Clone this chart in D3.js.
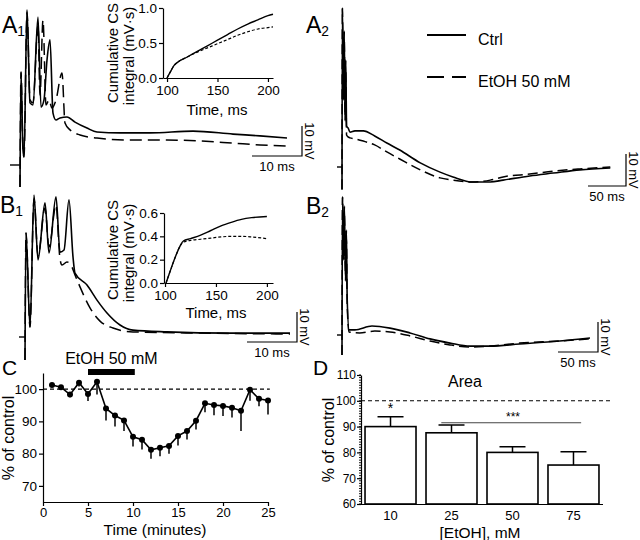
<!DOCTYPE html>
<html>
<head>
<meta charset="utf-8">
<script src="https://cdn.jsdelivr.net/npm/d3@7"></script>
<style>
  body { margin: 0; background: #fff; }
  svg { display: block; font-family: "Liberation Sans", Arial, sans-serif; }
</style>
</head>
<body>
<div id="chart"></div>
<script>
// ---- field potential traces, [time ms, mV] ----
const a1Ctrl = [[0,-7.3],[0.2,31],[0.6,5],[0.8,2.7],[1.4,51.7],[2,20.7],[2.6,20],[3.6,49.3],[4.2,19.3],[4.8,21.7],[5.4,35],[6,41.7],[6.6,17.3],[7.2,15],[8,15.7],[9.4,16],[11,14.3],[13.4,12.3],[15.4,11],[20,10.7],[26,10.7],[34.6,11.3],[42.6,10.3],[48,9.7],[53.4,9]];
const a1Etoh = [[0,-7.3],[0.2,31],[0.6,5],[0.8,2.7],[1.4,51],[2,21.7],[2.6,20.7],[3.6,46.7],[4,23.3],[4.6,48.3],[5.2,20],[5.8,21.7],[6.4,19],[7.2,21.7],[8.4,30.7],[9,14],[10,11.7],[12,10],[15.4,9],[22,8.3],[29.4,8.3],[36,8],[42.6,7.3],[48,6.7],[53.4,6.3]];

const a2Ctrl = [[0,-7],[0.5,49.6],[2,20.9],[3,42.5],[4,14.4],[5,33.4],[6,12.8],[8,12.2],[10.5,10.9],[17,11.3],[28,11.3],[43,9.7],[59,7.5],[76,5.3],[103,1.3],[129,-1.6],[146,-3.1],[172,-4.7],[195,-4.7],[212,-4.1],[247,-2.8],[278,-1.9],[313,-0.9],[353,-0.3]];
const a2Etoh = [[0,-7],[0.5,49.6],[2,22],[3,40],[4,16],[5,30],[6,10],[8,9.4],[10.5,9.1],[17,8.8],[28,8.1],[43,6.9],[59,4.7],[76,2.5],[103,-0.9],[129,-3.4],[146,-4.1],[172,-4.7],[195,-4.1],[212,-3.1],[247,-2.2],[278,-1.3],[313,-0.6],[353,0]];

const b1Ctrl = [[0,-7.7],[0.2,34.7],[1,3.3],[1.8,47.3],[2.6,25.7],[4,44.7],[4.8,28],[6.2,46.7],[7,28.3],[7.8,29],[8.8,45.7],[9.6,26.7],[10,21.3],[12.4,17.3],[14.4,12.3],[16.4,8],[19,4],[21.6,2.3],[28.4,1.7],[41,1.3],[53,1.3]];
const b1Etoh = [[0,-7.7],[0.2,34.7],[1,3.3],[1.8,46],[2.6,27],[4,43],[4.8,30],[6.2,44],[7,26],[7.4,24],[8.4,25],[9.4,23.3],[10,20.7],[11,16.7],[13,9.7],[15,5.3],[17.6,3],[21.6,1.7],[35,1.3],[53,1]];

const b2Ctrl = [[0,-6.7],[0.6,46],[2,25],[3,43],[4.4,18],[5.5,35],[6.5,12],[8.8,1.7],[16,1.7],[37.5,3],[60,2.3],[85,0.7],[110,-1.3],[135,-2.7],[160,-3.7],[185,-3.7],[222,-3],[272,-2],[310,-1]];
const b2Etoh = [[0,-6.7],[0.6,46],[2,27],[3,40],[4.4,20],[5.5,32],[6.5,10],[8.8,1],[22,0.7],[41,1.3],[60,1],[85,-0.3],[110,-2],[135,-3.3],[160,-4],[185,-3.7],[222,-2.7],[272,-2],[310,-1.3]];

// ---- cumulative CS integral insets, [time ms, mV·s] ----
const a1IntCtrl = [[100,0],[103,0.08],[107,0.18],[110,0.22],[120,0.3],[130,0.38],[140,0.46],[150,0.54],[160,0.62],[170,0.7],[180,0.77],[190,0.83],[200,0.89],[205,0.91]];
const a1IntEtoh = [[100,0],[103,0.08],[107,0.18],[110,0.22],[120,0.3],[130,0.37],[140,0.43],[150,0.49],[160,0.55],[170,0.61],[180,0.66],[190,0.7],[200,0.72],[205,0.73]];
const b1IntCtrl = [[101,0],[105,0.1],[110,0.22],[115,0.32],[118,0.36],[125,0.38],[135,0.41],[145,0.45],[155,0.49],[165,0.52],[175,0.545],[185,0.56],[200,0.57]];
const b1IntEtoh = [[101,0],[105,0.1],[110,0.22],[115,0.32],[118,0.35],[125,0.365],[135,0.375],[145,0.385],[155,0.395],[165,0.4],[175,0.4],[185,0.395],[200,0.38]];
const insetXTicks = [100, 150, 200];
const a1IntYTicks = [0, 0.5, 1.0];
const b1IntYTicks = [0, 0.2, 0.4, 0.6];

// ---- panel C: time course ----
const cMinutes = [1,2,3,4,5,6,7,8,9,10,11,12,13,14,15,16,17,18,19,20,21,22,23,24,25];
const cValues = [101.3,100.6,98.3,102,98.5,102.3,94,91.8,90.3,85.2,84.3,81.2,81.8,82.4,85.5,87,90.2,95.6,95.1,94.8,94.2,93.3,99.8,97,96.5];
const cErrors = [0.5,0.4,0.8,1.2,2.2,4,3.7,3.4,3.3,3,3,2.8,2.6,2.4,3,2.6,2.7,2.8,3.2,3.1,3,6.3,3.4,2.3,4.4];
const cXTicks = [0,5,10,15,20,25];
const cYTicks = [70,80,90,100];
const cEtohStart = 5, cEtohEnd = 10.2;

// ---- panel D: dose response ----
const dConc = ["10","25","50","75"];
const dValues = [90,87.6,80,75.1];
const dErrors = [3.8,3,2.2,5.2];
const dYTicks = [60,70,80,90,100,110];

const svg = d3.select("#chart").append("svg")
    .attr("width", 640)
    .attr("height", 540);

svg.append("rect").attr("width", 640).attr("height", 540).attr("fill", "#fff");

function panelLabel(txt, sub, x, y, size) {
    const t = svg.append("text").attr("x", x).attr("y", y)
        .attr("font-size", size).text(txt);
    if (sub) t.append("tspan").attr("font-size", size * 0.6).attr("dy", 3).text(sub);
}

function styleAxis(g, size) {
    g.selectAll("path, line").attr("stroke", "#000").attr("stroke-width", 1.2);
    g.selectAll("text").attr("font-size", size).attr("fill", "#000")
        .attr("font-family", "Liberation Sans, Arial, sans-serif");
}

// draw one pair of traces with its scale bar
function drawTrace(p) {
    const x = d3.scaleLinear().domain(p.xDom).range(p.xRange);
    const y = d3.scaleLinear().domain([0, 10]).range(p.yRange);
    const line = d3.line().x(d => x(d[0])).y(d => y(d[1])).curve(d3.curveMonotoneX);

    // 0 mV marker
    svg.append("line")
        .attr("x1", x(0) - p.tick).attr("x2", x(0))
        .attr("y1", y(0)).attr("y2", y(0))
        .attr("stroke", "#000").attr("stroke-width", 1.4);

    svg.append("path").datum(p.etoh).attr("d", line)
        .attr("fill", "none").attr("stroke", "#000").attr("stroke-width", 1.5)
        .attr("stroke-dasharray", p.dash);
    svg.append("path").datum(p.ctrl).attr("d", line)
        .attr("fill", "none").attr("stroke", "#000").attr("stroke-width", 1.6);

    // scale bar
    const w = x(p.barMs) - x(0), h = y(0) - y(10);
    const [cx, cy] = p.corner;
    svg.append("path")
        .attr("d", `M${cx - w},${cy}H${cx}V${cy - h}`)
        .attr("fill", "none").attr("stroke", "#000").attr("stroke-width", 1.2);
    svg.append("text").attr("x", cx - w / 2).attr("y", cy + 15)
        .attr("text-anchor", "middle").attr("font-size", 13).text(p.barMs + " ms");
    svg.append("text")
        .attr("transform", `translate(${cx + 3},${cy - h / 2}) rotate(90)`)
        .attr("text-anchor", "middle").attr("font-size", 13).text("10 mV");
}

function drawInset(p) {
    const x = d3.scaleLinear().domain(p.xDom).range(p.xRange);
    const y = d3.scaleLinear().domain(p.yDom).range(p.yRange);
    const line = d3.line().x(d => x(d[0])).y(d => y(d[1])).curve(d3.curveMonotoneX);

    const gx = svg.append("g").attr("transform", `translate(0,${p.yRange[0]})`)
        .call(d3.axisBottom(x).tickValues(insetXTicks).tickSize(4).tickPadding(3).tickSizeOuter(0));
    styleAxis(gx, 13.5);
    const gy = svg.append("g").attr("transform", `translate(${p.xRange[0]},0)`)
        .call(d3.axisLeft(y).tickValues(p.yTicks).tickFormat(d3.format(".1f"))
            .tickSize(4).tickPadding(2).tickSizeOuter(0));
    styleAxis(gy, 13.5);

    svg.append("path").datum(p.etoh).attr("d", line)
        .attr("fill", "none").attr("stroke", "#000").attr("stroke-width", 1.2)
        .attr("stroke-dasharray", "3,2");
    svg.append("path").datum(p.ctrl).attr("d", line)
        .attr("fill", "none").attr("stroke", "#000").attr("stroke-width", 1.4);

    svg.append("text").attr("x", p.xLabel[0]).attr("y", p.xLabel[1])
        .attr("text-anchor", "middle").attr("font-size", 15).text("Time, ms");
    svg.append("text")
        .attr("transform", `translate(118,${p.yMid}) rotate(-90)`)
        .attr("text-anchor", "middle").attr("font-size", 15).text("Cumulative CS");
    svg.append("text")
        .attr("transform", `translate(134,${p.yMid + 3}) rotate(-90)`)
        .attr("text-anchor", "middle").attr("font-size", 15).text("integral (mV·s)");
}

// ---- A1 ----
panelLabel("A", "1", 2, 33, 23);
drawTrace({ctrl: a1Ctrl, etoh: a1Etoh, xDom: [0, 10], xRange: [20, 70], yRange: [165, 135],
    tick: 10, dash: "12,6", barMs: 10, corner: [302, 156]});
drawInset({ctrl: a1IntCtrl, etoh: a1IntEtoh, xDom: [96, 205], xRange: [163, 273],
    yDom: [0, 1], yRange: [78, 8], yTicks: a1IntYTicks, xLabel: [217, 115], yMid: 53});

// ---- A2 ----
panelLabel("A", "2", 306, 33, 23);
drawTrace({ctrl: a2Ctrl, etoh: a2Etoh, xDom: [0, 50], xRange: [342, 380], yRange: [167, 135],
    tick: 5, dash: "10,5", barMs: 50, corner: [626, 186]});

// legend
svg.append("line").attr("x1", 427).attr("x2", 466).attr("y1", 35).attr("y2", 35)
    .attr("stroke", "#000").attr("stroke-width", 1.8);
svg.append("line").attr("x1", 427).attr("x2", 466).attr("y1", 77).attr("y2", 77)
    .attr("stroke", "#000").attr("stroke-width", 1.8).attr("stroke-dasharray", "17,8");
svg.append("text").attr("x", 478).attr("y", 45).attr("font-size", 16).text("Ctrl");
svg.append("text").attr("x", 478).attr("y", 87).attr("font-size", 16).text("EtOH 50 mM");

// ---- B1 ----
panelLabel("B", "1", 0, 213, 23);
drawTrace({ctrl: b1Ctrl, etoh: b1Etoh, xDom: [0, 10], xRange: [25, 75], yRange: [337, 307],
    tick: 6, dash: "12,6", barMs: 10, corner: [297, 342]});
drawInset({ctrl: b1IntCtrl, etoh: b1IntEtoh, xDom: [99, 206], xRange: [164, 273],
    yDom: [0, 0.6], yRange: [283, 213], yTicks: b1IntYTicks, xLabel: [216, 318], yMid: 250});

// ---- B2 ----
panelLabel("B", "2", 306, 214, 23);
drawTrace({ctrl: b2Ctrl, etoh: b2Etoh, xDom: [0, 50], xRange: [342, 382], yRange: [335, 305],
    tick: 5, dash: "10,5", barMs: 50, corner: [598, 352]});

// ---- C ----
panelLabel("C", null, 2, 375, 21);
const cx = d3.scaleLinear().domain([0, 25]).range([43, 268]);
const cy = d3.scaleLinear().domain([65, 105]).range([502, 373]);

const cgx = svg.append("g").attr("transform", "translate(0,502)")
    .call(d3.axisBottom(cx).tickValues(cXTicks).tickSize(4).tickPadding(2).tickSizeOuter(0));
styleAxis(cgx, 13);
const cgy = svg.append("g").attr("transform", "translate(43,0)")
    .call(d3.axisLeft(cy).tickValues(cYTicks).tickSize(4).tickPadding(2).tickSizeOuter(0));
styleAxis(cgy, 13.5);

svg.append("line").attr("x1", cx(0)).attr("x2", cx(25.2))
    .attr("y1", cy(100)).attr("y2", cy(100))
    .attr("stroke", "#000").attr("stroke-width", 1.1).attr("stroke-dasharray", "4,3");

svg.append("rect").attr("x", cx(cEtohStart)).attr("y", 369)
    .attr("width", cx(cEtohEnd) - cx(cEtohStart)).attr("height", 6).attr("fill", "#000");
svg.append("text").attr("x", cx(7.6)).attr("y", 364)
    .attr("text-anchor", "middle").attr("font-size", 16).text("EtOH 50 mM");

const cData = cMinutes.map((m, i) => ({m: m, v: cValues[i], e: cErrors[i]}));
svg.selectAll(".cerr").data(cData).enter().append("line")
    .attr("class", "cerr")
    .attr("x1", d => cx(d.m)).attr("x2", d => cx(d.m))
    .attr("y1", d => cy(d.v)).attr("y2", d => cy(d.v - d.e))
    .attr("stroke", "#000").attr("stroke-width", 1.5);
svg.append("path").datum(cData)
    .attr("d", d3.line().x(d => cx(d.m)).y(d => cy(d.v)))
    .attr("fill", "none").attr("stroke", "#000").attr("stroke-width", 1.6);
svg.selectAll(".cdot").data(cData).enter().append("circle")
    .attr("class", "cdot")
    .attr("cx", d => cx(d.m)).attr("cy", d => cy(d.v)).attr("r", 3)
    .attr("fill", "#000");

svg.append("text").attr("x", 155).attr("y", 535)
    .attr("text-anchor", "middle").attr("font-size", 15.5).text("Time (minutes)");
svg.append("text").attr("transform", "translate(14,438) rotate(-90)")
    .attr("text-anchor", "middle").attr("font-size", 16).text("% of control");

// ---- D ----
panelLabel("D", null, 313, 375, 21);
const dx = d3.scaleBand().domain(dConc).range([361, 603]).paddingInner(0.164).paddingOuter(0.066);
const dy = d3.scaleLinear().domain([60, 110]).range([504, 375]);

// minor ticks on y axis
svg.selectAll(".dminor").data(d3.range(60, 111, 1)).enter().append("line")
    .attr("class", "dminor")
    .attr("x1", 359).attr("x2", 361)
    .attr("y1", d => dy(d)).attr("y2", d => dy(d))
    .attr("stroke", "#000").attr("stroke-width", 0.9);

const dgy = svg.append("g").attr("transform", "translate(361,0)")
    .call(d3.axisLeft(dy).tickValues(dYTicks).tickSize(4).tickPadding(1).tickSizeOuter(0));
styleAxis(dgy, 12);
const dgx = svg.append("g").attr("transform", "translate(0,504)")
    .call(d3.axisBottom(dx).tickSize(0).tickPadding(7));
styleAxis(dgx, 13);
dgx.select(".domain").attr("d", "M361,0.5H603");

svg.append("line").attr("x1", 361).attr("x2", 610)
    .attr("y1", dy(100)).attr("y2", dy(100))
    .attr("stroke", "#000").attr("stroke-width", 1.1).attr("stroke-dasharray", "4,3");

const dData = dConc.map((c, i) => ({c: c, v: dValues[i], e: dErrors[i]}));
const bw = dx.bandwidth();
svg.selectAll(".derr").data(dData).enter().append("path")
    .attr("class", "derr")
    .attr("d", d => {
        const m = dx(d.c) + bw / 2, top = dy(d.v + d.e);
        return `M${m},${dy(d.v)}V${top}M${m - 13},${top}H${m + 13}`;
    })
    .attr("fill", "none").attr("stroke", "#000").attr("stroke-width", 1.5);
svg.selectAll(".dbar").data(dData).enter().append("rect")
    .attr("class", "dbar")
    .attr("x", d => dx(d.c)).attr("width", bw)
    .attr("y", d => dy(d.v)).attr("height", d => dy(60) - dy(d.v))
    .attr("fill", "#fff").attr("stroke", "#000").attr("stroke-width", 1.6);

// significance marks
svg.append("text").attr("x", dx("10") + bw / 2).attr("y", dy(95.3))
    .attr("text-anchor", "middle").attr("font-size", 14).text("*");
svg.append("line").attr("x1", dx("25") + bw * 0.3).attr("x2", dx("75") + bw * 0.65)
    .attr("y1", dy(91.5)).attr("y2", dy(91.5))
    .attr("stroke", "#444").attr("stroke-width", 1.1);
svg.append("text").attr("x", 513).attr("y", dy(92.2))
    .attr("text-anchor", "middle").attr("font-size", 12).text("***");

svg.append("text").attr("x", 465).attr("y", 387)
    .attr("text-anchor", "middle").attr("font-size", 16).text("Area");
svg.append("text").attr("x", 480).attr("y", 538)
    .attr("text-anchor", "middle").attr("font-size", 15.5).text("[EtOH], mM");
svg.append("text").attr("transform", "translate(334,440) rotate(-90)")
    .attr("text-anchor", "middle").attr("font-size", 16).text("% of control");
</script>
</body>
</html>
